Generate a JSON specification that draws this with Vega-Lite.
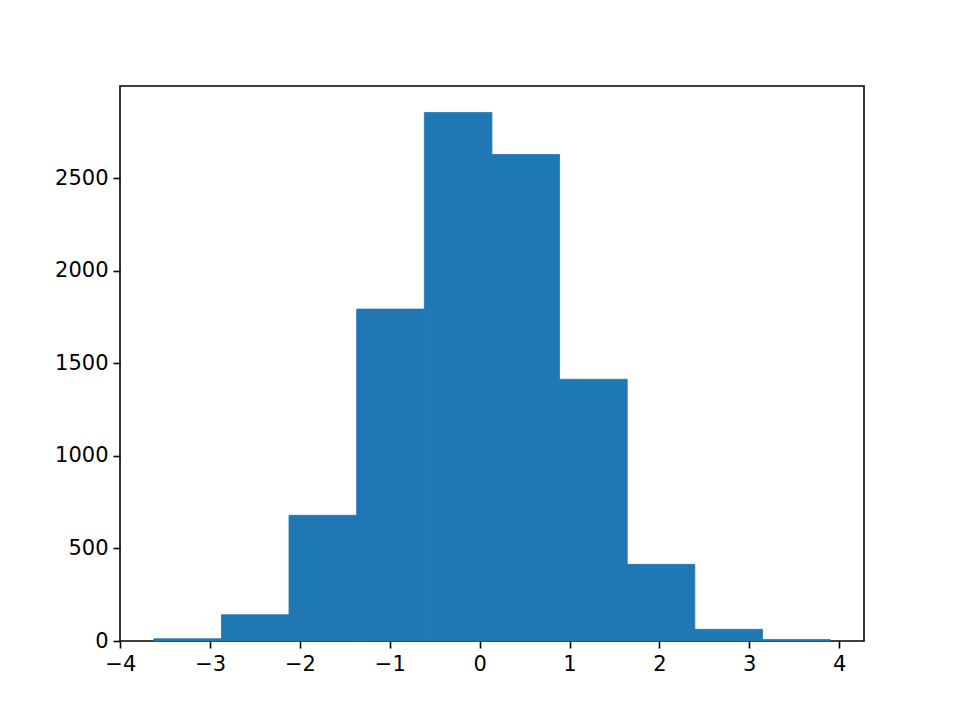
{
  "$schema": "https://vega.github.io/schema/vega-lite/v6.json",
  "width": 744,
  "height": 555,
  "autosize": {"type": "none"},
  "padding": {"left": 120, "top": 86, "right": 96, "bottom": 79},
  "background": "white",
  "config": {
    "view": {"stroke": "black", "strokeWidth": 1.6},
    "axis": {
      "labelFont": "DejaVu Sans",
      "labelFontSize": 21,
      "labelColor": "black",
      "tickColor": "black",
      "tickSize": 7,
      "tickWidth": 1.6,
      "domain": false,
      "grid": false,
      "title": null,
      "labelPadding": 5,
      "labelFlush": false
    }
  },
  "data": {
    "values": [
      {"lo": -3.627, "hi": -2.874, "count": 12},
      {"lo": -2.874, "hi": -2.122, "count": 142},
      {"lo": -2.122, "hi": -1.369, "count": 679},
      {"lo": -1.369, "hi": -0.616, "count": 1793},
      {"lo": -0.616, "hi": 0.136, "count": 2855},
      {"lo": 0.136, "hi": 0.889, "count": 2628},
      {"lo": 0.889, "hi": 1.642, "count": 1414},
      {"lo": 1.642, "hi": 2.394, "count": 414},
      {"lo": 2.394, "hi": 3.147, "count": 63},
      {"lo": 3.147, "hi": 3.9, "count": 8}
    ]
  },
  "mark": {"type": "rect", "color": "#1f77b4", "stroke": "#1f77b4", "strokeWidth": 0.8},
  "encoding": {
    "x": {
      "field": "lo",
      "type": "quantitative",
      "scale": {"domain": [-4.003, 4.277], "nice": false, "zero": false, "padding": 0},
      "axis": {"values": [-4, -3, -2, -1, 0, 1, 2, 3, 4], "labelFlush": false, "labelExpr": "replace(format(datum.value, 'd'), '-', '\u2212')"}
    },
    "x2": {"field": "hi"},
    "y": {
      "field": "count",
      "type": "quantitative",
      "scale": {"domain": [0, 2998], "nice": false, "padding": 0},
      "axis": {"values": [0, 500, 1000, 1500, 2000, 2500], "format": "d", "labelFlush": false}
    },
    "y2": {"datum": 0}
  }
}
